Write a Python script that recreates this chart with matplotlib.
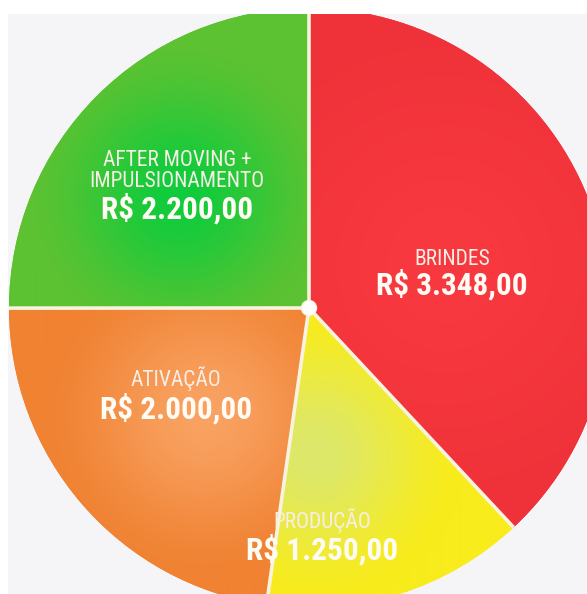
import numpy as np
import matplotlib
matplotlib.use("Agg")
import matplotlib.pyplot as plt
from matplotlib.colors import to_rgb
from matplotlib.patches import Rectangle, Circle

# Budget split (R$)
categories = ["BRINDES", "PRODUÇÃO", "ATIVAÇÃO", "AFTER MOVING +\nIMPULSIONAMENTO"]
values = [3348.00, 1250.00, 2000.00, 2200.00]
value_labels = ["R$ 3.348,00", "R$ 1.250,00", "R$ 2.000,00", "R$ 2.200,00"]

# slice colours: rim colour and the lighter glow inside each slice
rim_colors = ["#ef3139", "#f8ec1c", "#f08232", "#5dc232"]
glow_colors = ["#f8393f", "#dde86c", "#f9a262", "#10cc3c"]

W, H = 587, 594
FONT = ["Roboto Condensed", "Liberation Sans Narrow", "DejaVu Sans"]

fig = plt.figure(figsize=(W / 100, H / 100), dpi=100)
fig.patch.set_facecolor("white")
panel = [8 / W, 0, 1 - 8 / W, (H - 14) / H]
fig.add_artist(Rectangle(panel[:2], panel[2], panel[3], transform=fig.transFigure,
                         facecolor="#f5f5f7", edgecolor="none", zorder=0))
ax = fig.add_axes(panel)
ax.patch.set_alpha(0)

cx, cy, R = 309, H - 308, 300
wedges, _ = ax.pie(values, radius=R, center=(cx, cy), startangle=90,
                   counterclock=False, wedgeprops=dict(linewidth=0))

# radial glow per slice (centre in screen px, spread radius)
glows = [((445, 265), 280), ((315, 455), 150), ((205, 415), 170), ((180, 195), 160)]

x0, x1, y0, y1 = 8, W, 0, H - 14
xs = np.linspace(x0, x1, 580)
ys = np.linspace(y0, y1, 580)
XX, YY = np.meshgrid(xs, ys)

for w, rim, glow, ((gx, gy), gr) in zip(wedges, rim_colors, glow_colors, glows):
    w.set_facecolor(rim)
    w.set_clip_on(True)
    w.set_clip_box(ax.bbox)
    d = np.hypot(XX - gx, YY - (H - gy)) / gr
    t = np.clip(d, 0, 1)
    t = t * t * (3 - 2 * t)
    c0, c1 = np.array(to_rgb(glow)), np.array(to_rgb(rim))
    img = c0[None, None, :] + (c1 - c0)[None, None, :] * t[..., None]
    im = ax.imshow(img, extent=(x0, x1, y0, y1), origin="lower",
                   interpolation="bilinear", zorder=2)
    im.set_clip_path(w)
    # separator along the slice's starting radius
    a = np.deg2rad(w.theta1)
    ax.plot([w.center[0], w.center[0] + w.r * np.cos(a)],
            [w.center[1], w.center[1] + w.r * np.sin(a)],
            color="#f8f3df", linewidth=2.6, solid_capstyle="butt", zorder=3)

ax.add_patch(Circle((cx, cy), 7.5, facecolor="white", edgecolor="#f8f3df",
                    linewidth=1, zorder=5))

# label layout: (x centre, baselines of name lines, baseline of value) in screen px
layout = [
    (452, [265], 295),
    (322, [528], 560),
    (176, [386], 419),
    (177, [166, 187], 219),
]

for name, vlab, (lx, name_bases, vbase) in zip(categories, value_labels, layout):
    for line, b in zip(name.split("\n"), name_bases):
        ax.text(lx, H - b, line, ha="center", va="baseline", fontsize=15.5,
                family=FONT, fontstretch="condensed", color="#f7efe6", zorder=6)
    ax.text(lx, H - vbase, vlab, ha="center", va="baseline", fontsize=22.5,
            family=FONT, fontstretch="condensed", fontweight="bold",
            color="#fffcf6", zorder=6)

ax.set_xlim(x0, x1)
ax.set_ylim(y0, y1)
ax.set_aspect("auto")
ax.axis("off")

fig.savefig("out.png", dpi=100, facecolor=fig.get_facecolor())
